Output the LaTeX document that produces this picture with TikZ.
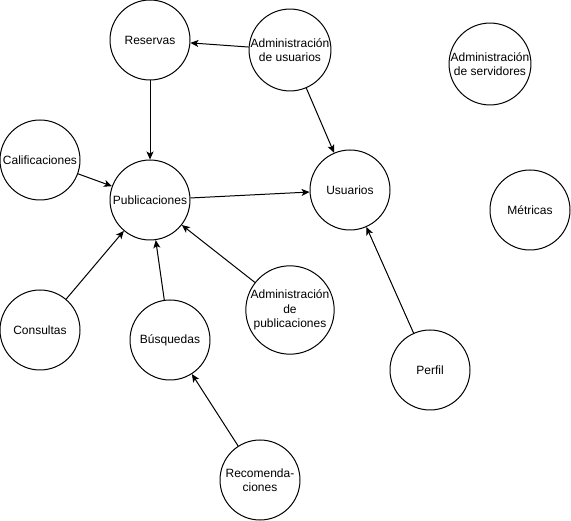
\documentclass[tikz,border=0pt]{standalone}
\usepackage{fontspec}
\setmainfont{Liberation Sans}
\usepackage{tikz}
\usetikzlibrary{
    arrows.meta
}

\begin{document}
\begin{tikzpicture}[x=1pt,y=-1pt,line width=1pt,
    proc/.style={draw,circle,minimum size=80pt,inner sep=0pt,align=center,
        font=\fontsize{12}{14.4}\selectfont},
    flow/.style={-{Stealth[length=8pt,width=7pt,inset=2pt]}}]

\useasboundingbox (0,0) rectangle (571,521);

\node[proc] (reservas) at (150,40) {Reservas};
\node[proc] (admusu) at (290,50) {Administración\\de usuarios};
\node[proc] (admserv) at (490,64) {Administración\\de servidores};

\node[proc] (calif) at (40,160) {Calificaciones};
\node[proc] (public) at (150,200) {Publicaciones};
\node[proc] (usuarios) at (350,190) {Usuarios};
\node[proc] (metricas) at (530,210) {Métricas};

\node[proc] (consultas) at (40,330) {Consultas};
\node[proc] (busquedas) at (170,340) {Búsquedas};
\node[proc] (admpub) at (290,310) {Administración\\de\\publicaciones};
\node[proc] (perfil) at (430,370) {Perfil};
\node[proc] (recom) at (260,480) {Recomenda-\\ciones};

\draw[flow] (admusu) -- (reservas);
\draw[flow] (admusu) -- (usuarios);
\draw[flow] (reservas) -- (public);
\draw[flow] (calif) -- (public);
\draw[flow] (public) -- (usuarios);
\draw[flow] (consultas) -- (public);
\draw[flow] (busquedas) -- (public);
\draw[flow] (admpub) -- (public);
\draw[flow] (perfil) -- (usuarios);
\draw[flow] (recom) -- (busquedas);

\end{tikzpicture}
\end{document}
